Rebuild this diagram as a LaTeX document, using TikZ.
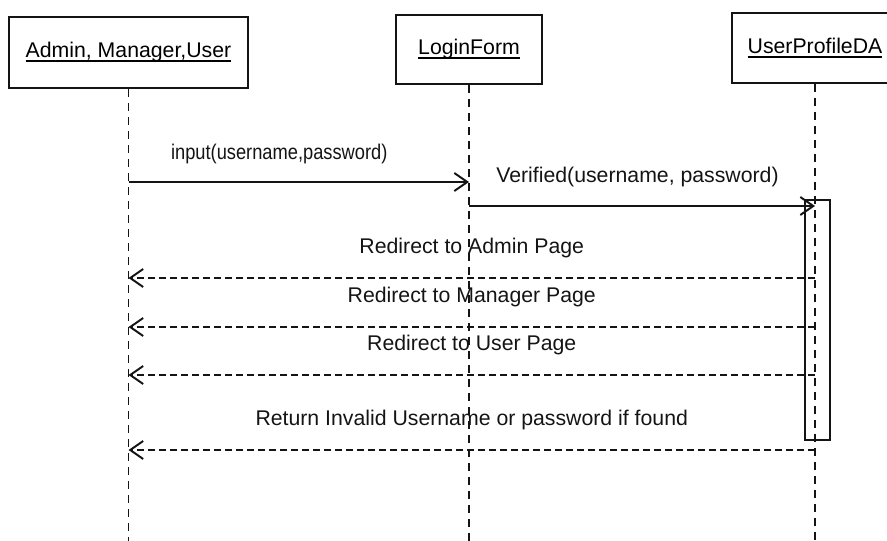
\documentclass[tikz,border=0pt]{standalone}
\usepackage{fontspec}
\setmainfont{Liberation Sans}
\newfontfamily\condsans[FakeStretch=0.86]{Liberation Sans}
\usepackage{tikz}
\usetikzlibrary{arrows.meta}
\usetikzlibrary{calc}
\definecolor{myblack}{HTML}{141414}
\newcommand{\objtitle}[1]{\setbox0\hbox{#1}\rlap{\rule[-2.2pt]{\wd0}{0.8pt}}\box0}
\tikzset{every text node part/.style={align=center, font={\fontsize{12.1pt}{14pt}\selectfont}}}
\tikzstyle{obj} = [draw=myblack, line width=1.2pt, inner sep=0pt]
\tikzstyle{act} = [draw=myblack, line width=0.9pt, inner sep=0pt]
\tikzstyle{life} = [draw=myblack, line width=0.9pt, dash pattern=on 0.16cm off 0.12cm]
\tikzstyle{msg} = [draw=myblack, line width=1.1pt, -{Straight Barb[length=2.6mm, width=3.6mm]}]
\tikzstyle{ret} = [msg, dash pattern=on 0.14cm off 0.08cm]
\tikzstyle{lbl} = [text=myblack]

\begin{document}
\begin{tikzpicture}[x=0.02cm, y=-0.02cm]
  \useasboundingbox (0,0) rectangle (887,541);
  \node[obj, minimum width=4.78cm, minimum height=1.42cm] (actor) at (128.5,52.5) {\objtitle{Admin, Manager,User}};
  \node[obj, minimum width=2.92cm, minimum height=1.38cm] (login) at (469,49.5) {\objtitle{LoginForm}};
  \node[obj, minimum width=3.32cm, minimum height=1.40cm] (profile) at (815,48) {\objtitle{UserProfileDA}};
  \coordinate (bottom) at (0,541);
  \draw[life] (actor.south) -- (actor.south |- bottom);
  \draw[life] (login.south) -- (login.south |- bottom);
  \draw[life] (profile.south) -- (profile.south |- bottom);
  \node[act, minimum width=0.5cm, minimum height=4.8cm, anchor=north] (check) at (817.5,199) {};
  \draw[msg] (actor |- 0,182) -- node[lbl, midway, yshift=0.56cm, xshift=-0.39cm] {\condsans input(username,password)} (login |- 0,182);
  \draw[msg] (login |- 0,206) -- node[lbl, midway, yshift=0.58cm, xshift=-0.09cm] {Verified(username, password)} (profile |- 0,206);
  \draw[ret] (profile |- 0,278) -- node[lbl, midway, yshift=0.6cm] {Redirect to Admin Page} (actor |- 0,278);
  \draw[ret] (profile |- 0,327) -- node[lbl, midway, yshift=0.6cm] {Redirect to Manager Page} (actor |- 0,327);
  \draw[ret] (profile |- 0,375) -- node[lbl, midway, yshift=0.6cm] {Redirect to User Page} (actor |- 0,375);
  \draw[ret] (profile |- 0,450) -- node[lbl, midway, yshift=0.6cm] {Return Invalid Username or password if found} (actor |- 0,450);
\end{tikzpicture}
\end{document}
